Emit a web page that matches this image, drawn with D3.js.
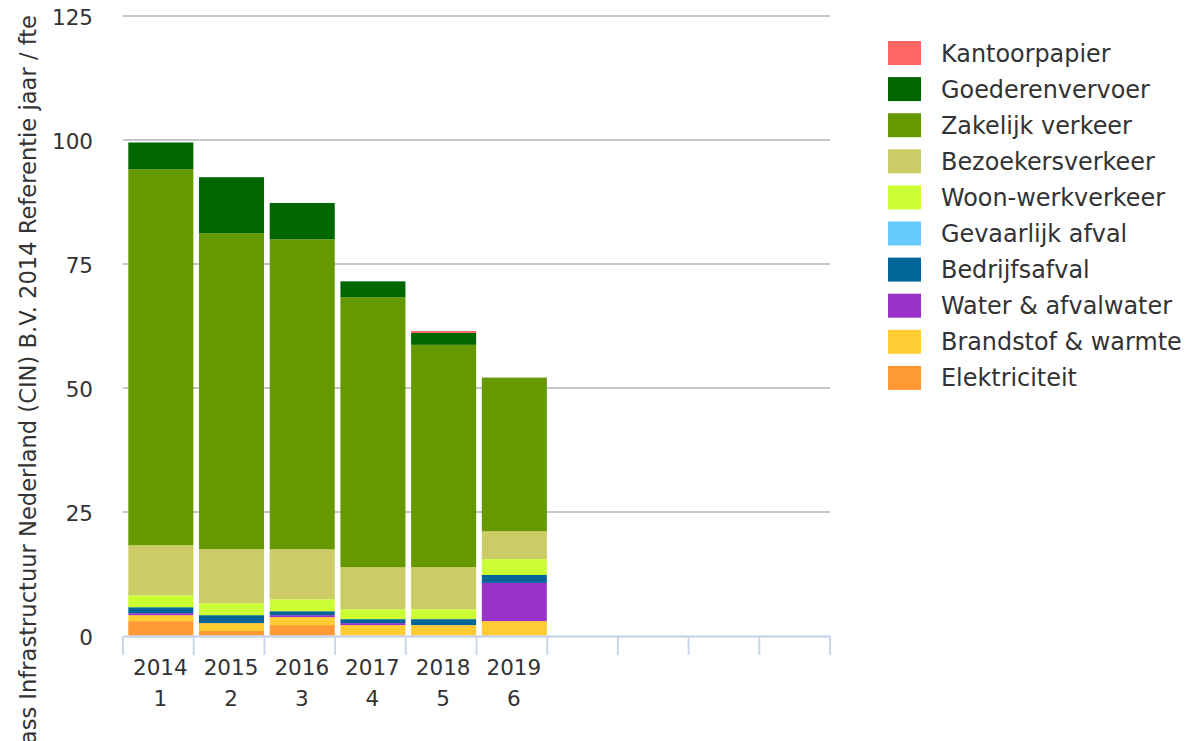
<!DOCTYPE html>
<html>
<head>
<meta charset="utf-8">
<script src="https://cdn.jsdelivr.net/npm/d3@7"></script>
<style>
  html, body { margin: 0; padding: 0; background: #fff; }
  svg { display: block; font-family: "DejaVu Sans", sans-serif; }
</style>
</head>
<body>
<svg id="chart" width="1189" height="741"></svg>
<script>
// ---- Data ----
const years = ["2014", "2015", "2016", "2017", "2018", "2019"];
const yearIndex = ["1", "2", "3", "4", "5", "6"];
const emptySlots = ["e7", "e8", "e9", "e10"];
const yTicks = [0, 25, 50, 75, 100, 125];

const seriesNames = ["Elektriciteit", "Brandstof & warmte", "Water & afvalwater", "Bedrijfsafval",
  "Gevaarlijk afval", "Woon-werkverkeer", "Bezoekersverkeer", "Zakelijk verkeer",
  "Goederenvervoer", "Kantoorpapier"];
const seriesColors = ["#ff9933", "#ffcc33", "#9933cc", "#006699", "#66ccff", "#ccff33",
  "#cccc66", "#669900", "#006600", "#ff6666"];

const elektriciteit   = [3.0, 1.0, 2.2, 0.0, 0.0, 0.0];
const brandstof       = [1.2, 1.6, 1.6, 2.2, 2.2, 3.0];
const water           = [0.4, 0.0, 0.4, 0.4, 0.0, 7.7];
const bedrijfsafval   = [1.2, 1.6, 0.8, 0.8, 1.2, 1.6];
const gevaarlijk      = [0.0, 0.0, 0.0, 0.0, 0.0, 0.0];
const woonwerk        = [2.4, 2.4, 2.4, 2.0, 2.0, 3.2];
const bezoekers       = [10.1, 10.9, 10.1, 8.5, 8.5, 5.6];
const zakelijk        = [75.8, 63.7, 62.5, 54.4, 44.8, 31.0];
const goederen        = [5.4, 11.3, 7.3, 3.2, 2.4, 0.0];
const kantoorpapier   = [0.0, 0.0, 0.0, 0.0, 0.4, 0.0];

const seriesValues = [elektriciteit, brandstof, water, bedrijfsafval, gevaarlijk,
  woonwerk, bezoekers, zakelijk, goederen, kantoorpapier];

const yTitle = "ass Infrastructuur Nederland (CIN) B.V. 2014 Referentie jaar / fte";

(function () {
  const keys = seriesNames;
  const table = years.map((yr, i) => {
    const row = { year: yr };
    keys.forEach((k, s) => row[k] = seriesValues[s][i]);
    return row;
  });

  const svg = d3.select("#chart");
  const pLeft = 123, pRight = 830, pTop = 16, pBottom = 636;

  const x = d3.scaleBand().domain(years.concat(emptySlots)).range([pLeft, pRight]).paddingInner(0).paddingOuter(0);
  const y = d3.scaleLinear().domain([0, 125]).range([pBottom, pTop]);

  // gridlines
  svg.append("g").selectAll("line").data(yTicks.filter(t => t > 0)).join("line")
    .attr("x1", pLeft).attr("x2", pRight)
    .attr("y1", d => y(d)).attr("y2", d => y(d))
    .attr("stroke", "#c6c6c6").attr("stroke-width", 2);

  // y axis labels
  const yAxis = d3.axisLeft(y).tickValues(yTicks).tickSize(0).tickPadding(0);
  const gy = svg.append("g").attr("transform", "translate(93,2)").call(yAxis);
  gy.select(".domain").remove();
  gy.selectAll("text").attr("font-size", 21.5).attr("fill", "#333").attr("font-family", "DejaVu Sans");

  // bars
  const stacked = d3.stack().keys(keys)(table);
  const bw = x.bandwidth();
  svg.append("g").selectAll("g").data(stacked).join("g")
    .attr("fill", (d, i) => seriesColors[i])
    .selectAll("rect").data(d => d).join("rect")
    .attr("x", d => x(d.data.year) + bw * 0.075)
    .attr("width", bw * 0.92)
    .attr("y", d => y(d[1]))
    .attr("height", d => Math.max(0, y(d[0]) - y(d[1])));

  // x axis
  const xAxis = d3.axisBottom(x).tickSize(0).tickFormat(() => "");
  const gx = svg.append("g").attr("transform", `translate(0,${pBottom})`).call(xAxis);
  gx.select(".domain").attr("stroke", "#ccd6eb").attr("stroke-width", 2.5);
  const boundaries = x.domain().map(d => x(d)).concat([pRight]);
  svg.append("g").selectAll("line").data(boundaries).join("line")
    .attr("x1", d => d).attr("x2", d => d)
    .attr("y1", pBottom).attr("y2", pBottom + 19)
    .attr("stroke", "#ccd6eb").attr("stroke-width", 2);

  // x labels (two lines)
  const lab = svg.append("g").selectAll("text").data(years).join("text")
    .attr("text-anchor", "middle")
    .attr("font-size", 21.5).attr("fill", "#333");
  lab.append("tspan").attr("x", d => x(d) + bw / 2 + 2).attr("y", 667).attr("dominant-baseline", "central").text(d => d);
  lab.append("tspan").attr("x", d => x(d) + bw / 2 + 2).attr("y", 698).attr("dominant-baseline", "central").text((d, i) => yearIndex[i]);

  // y title
  svg.append("text")
    .attr("transform", "translate(36,15) rotate(-90)")
    .attr("text-anchor", "end")
    .attr("font-size", 22.6).attr("fill", "#333")
    .text(yTitle);

  // legend (reverse order)
  const legendItems = seriesNames.map((n, i) => ({ name: n, color: seriesColors[i] })).reverse();
  const lg = svg.append("g").selectAll("g").data(legendItems).join("g")
    .attr("transform", (d, i) => `translate(888,${41 + i * 36.1})`);
  lg.append("rect").attr("width", 33).attr("height", 24).attr("fill", d => d.color);
  lg.append("text").attr("x", 53).attr("y", 12.5).attr("dominant-baseline", "central")
    .attr("font-size", 23.9).attr("fill", "#333").text(d => d.name);
})();
</script>
</body>
</html>
